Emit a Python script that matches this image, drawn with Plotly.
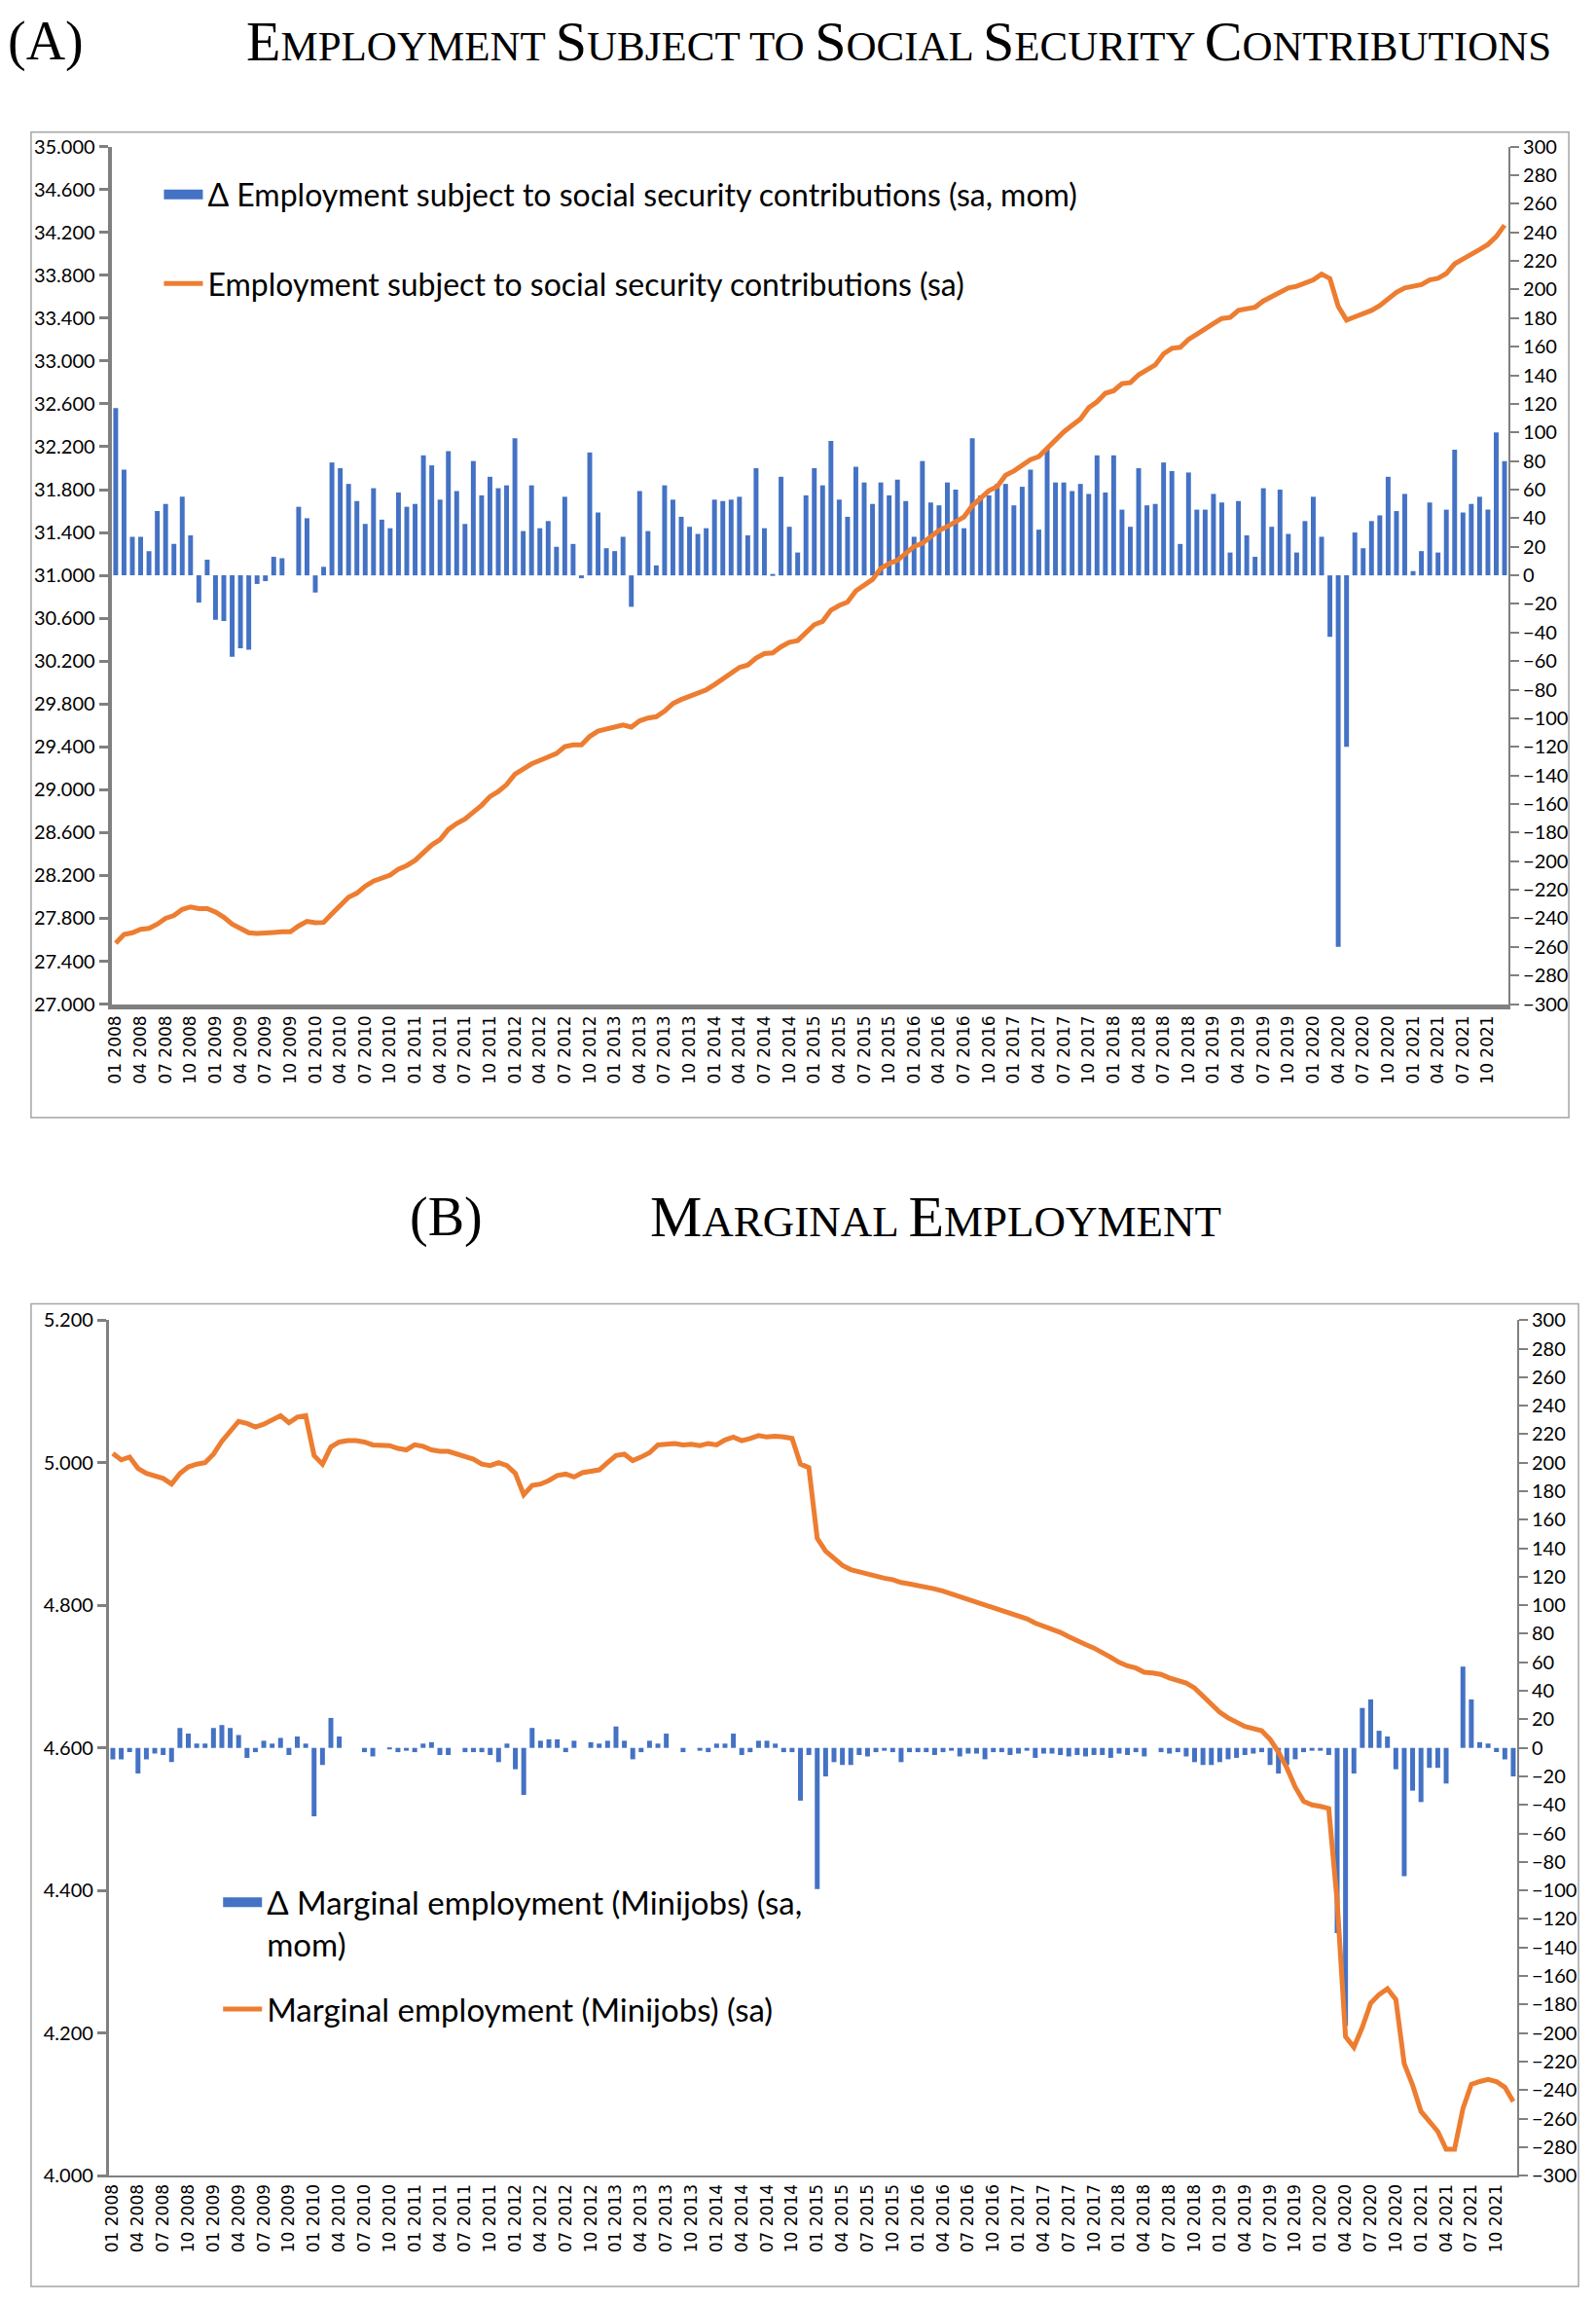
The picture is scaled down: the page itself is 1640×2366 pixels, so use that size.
import plotly.graph_objects as go

# ---------------- data ----------------
months = [f"{m:02d} {y}" for y in range(2008, 2022) for m in range(1, 13)]
tick_labels = months[::3]

# Panel A: change (thousand, right axis) and level (thousand, left axis)
ssc_change = [117, 74, 27, 27, 17, 45, 50, 22, 55, 28, -19, 11,
              -31, -32, -57, -51, -52, -6, -4, 13, 12, 0, 48, 40,
              -12, 6, 79, 75, 64, 52, 36, 61, 39, 33, 58, 48,
              50, 84, 77, 53, 87, 59, 36, 80, 56, 69, 61, 63,
              96, 31, 63, 33, 38, 20, 55, 22, -2, 86, 44, 19,
              17, 27, -22, 59, 31, 7, 63, 53, 41, 34, 29, 33,
              53, 52, 53, 55, 28, 75, 33, 1, 69, 34, 16, 56,
              75, 63, 94, 53, 41, 76, 65, 50, 65, 56, 67, 52,
              27, 80, 51, 49, 65, 60, 33, 96, 56, 56, 64, 64,
              49, 62, 74, 32, 88, 65, 65, 59, 64, 57, 84, 58,
              84, 46, 34, 75, 49, 50, 79, 73, 22, 72, 46, 46,
              57, 51, 16, 52, 28, 13, 61, 34, 60, 29, 16, 38,
              55, 27, -43, -260, -120, 30, 19, 38, 42, 69, 45, 57,
              3, 17, 51, 16, 46, 88, 44, 50, 55, 46, 100, 80]

ssc_level = [27569, 27650, 27666, 27698, 27707, 27746, 27800, 27826, 27884, 27907, 27891, 27891,
             27859, 27810, 27746, 27707, 27666, 27659, 27659, 27669, 27675, 27675, 27730, 27772,
             27759, 27762, 27842, 27923, 27997, 28035, 28100, 28148, 28170, 28203, 28260, 28293,
             28341, 28421, 28485, 28534, 28630, 28685, 28727, 28791, 28855, 28936, 28984, 29048,
             29144, 29193, 29241, 29273, 29305, 29338, 29402, 29418, 29418, 29498, 29547, 29569,
             29585, 29604, 29585, 29643, 29669, 29682, 29733, 29804, 29842, 29874, 29907, 29932,
             29981, 30035, 30093, 30141, 30164, 30228, 30270, 30277, 30334, 30376, 30391, 30460,
             30540, 30571, 30676, 30720, 30751, 30856, 30910, 30961, 31066, 31110, 31141, 31200,
             31270, 31300, 31366, 31420, 31456, 31500, 31545, 31650, 31725, 31790, 31830, 31935,
             31974, 32025, 32080, 32108, 32190, 32270, 32339, 32400, 32459, 32564, 32620, 32699,
             32723, 32789, 32798, 32872, 32920, 32963, 33067, 33118, 33128, 33202, 33250, 33307,
             33350, 33397, 33406, 33472, 33490, 33502, 33560, 33600, 33652, 33682, 33697, 33730,
             33757, 33811, 33770, 33510, 33382, 33412, 33441, 33472, 33517, 33577, 33640, 33682,
             33697, 33712, 33757, 33772, 33816, 33907, 33951, 33990, 34040, 34087, 34160, 34267]

# Panel B: change (thousand, right axis) and level (thousand, left axis)
mini_change = [-8, -8, -3, -18, -8, -4, -5, -10, 14, 10, 3, 3,
               14, 16, 14, 9, -7, -3, 5, 3, 7, -5, 8, 3,
               -48, -12, 21, 8, 0, 0, -3, -6, 0, -1, -3, -2,
               -3, 3, 4, -5, -5, 0, -3, -3, -3, -5, -10, 3,
               -15, -33, 14, 5, 6, 6, -3, 5, 0, 4, 3, 5,
               15, 5, -8, -3, 5, 3, 10, 0, -3, 0, -2, -3,
               3, 3, 10, -5, -3, 5, 5, 3, -3, -3, -37, -5,
               -99, -20, -10, -12, -12, -5, -6, -3, -2, -3, -10, -3,
               -3, -3, -5, -3, -2, -6, -4, -4, -8, -3, -3, -5,
               -4, -2, -7, -4, -4, -5, -6, -5, -6, -5, -5, -7,
               -4, -5, -3, -6, 0, -3, -4, -3, -6, -10, -12, -12,
               -10, -8, -7, -5, -4, -3, -12, -18, -12, -8, -3, -2,
               -2, -5, -130, -195, -18, 28, 34, 12, 8, -15, -90, -30,
               -38, -14, -14, -25, 0, 57, 34, 4, 3, -3, -8, -20]

mini_level = [5013, 5004, 5008, 4992, 4985, 4982, 4978, 4970, 4985, 4994, 4998, 5000,
              5012, 5030, 5045, 5058, 5055, 5050, 5054, 5060, 5066, 5056, 5064, 5066,
              5010, 4998, 5022, 5029, 5031, 5031, 5029, 5025, 5025, 5024, 5020, 5018,
              5025, 5023, 5018, 5016, 5016, 5012, 5008, 5005, 4998, 4996, 5000, 4996,
              4985, 4955, 4968, 4970, 4975, 4982, 4984, 4980, 4986, 4988, 4990, 5000,
              5010, 5012, 5003, 5008, 5014, 5025, 5026, 5027, 5025, 5026, 5024, 5027,
              5025, 5032, 5036, 5031, 5034, 5038, 5036, 5037, 5036, 5034, 4998, 4993,
              4894, 4876, 4866, 4856, 4850, 4847, 4843, 4840, 4838, 4836, 4832, 4830,
              4828, 4826, 4823, 4820, 4816, 4813, 4808, 4805, 4800, 4796, 4793, 4788,
              4784, 4781, 4775, 4771, 4766, 4762, 4756, 4750, 4745, 4740, 4734, 4727,
              4720, 4715, 4712, 4706, 4705, 4703, 4698, 4695, 4691, 4684, 4672, 4660,
              4650, 4642, 4636, 4630, 4627, 4624, 4612, 4594, 4572, 4545, 4525, 4520,
              4518, 4515, 4385, 4195, 4180, 4208, 4242, 4254, 4262, 4247, 4157, 4127,
              4090, 4076, 4062, 4037, 4037, 4094, 4128, 4132, 4135, 4132, 4124, 4104]

# ---------------- helpers ----------------
PAGE_MARGIN = 8          # default body margin of the html page
W, H = 1640 - 2 * PAGE_MARGIN, 2366 - 2 * PAGE_MARGIN


def px(x):
    """page x (pixels) -> paper fraction"""
    return (x - PAGE_MARGIN) / W


def py(y):
    """page y (pixels from top) -> paper fraction"""
    return 1 - (y - PAGE_MARGIN) / H


def small_caps(text, big, small):
    out = []
    for w in text.split(" "):
        if w[0].isupper():
            out.append(f'<span style="font-size:{big}px">{w[0]}</span>{w[1:].upper()}')
        else:
            out.append(w.upper())
    return " ".join(out)


BLUE = "#4472C4"
ORANGE = "#ED7D31"
GREY = "#808080"
TICKFONT = dict(family="Lato", size=20, color="#000000")
XFONT = dict(family="DejaVu Sans", size=17, color="#000000")

name_a_bar = "Δ Employment subject to social security contributions (sa, mom)"
name_a_line = "Employment subject to social security contributions (sa)"
name_b_bar = "Δ Marginal employment (Minijobs) (sa,<br>mom)"
name_b_line = "Marginal employment (Minijobs) (sa)"

fig = go.Figure()

# Panel A
fig.add_trace(go.Bar(x=months, y=ssc_change, xaxis="x", yaxis="y",
                     marker=dict(color=BLUE, line=dict(width=0)),
                     name=name_a_bar, showlegend=False, legendgroup="a1"))
# legend entry with a wide rectangular key for the bars
fig.add_trace(go.Scatter(x=[None], y=[None], xaxis="x", yaxis="y", mode="lines",
                         line=dict(color=BLUE, width=19), name=name_a_bar,
                         legend="legend", legendgroup="a1", hoverinfo="skip"))
fig.add_trace(go.Scatter(x=months, y=ssc_level, xaxis="x", yaxis="y2", mode="lines",
                         line=dict(color=ORANGE, width=5), name=name_a_line,
                         legend="legend", legendgroup="a2"))
# Panel B
fig.add_trace(go.Bar(x=months, y=mini_change, xaxis="x2", yaxis="y3",
                     marker=dict(color=BLUE, line=dict(width=0)),
                     name=name_b_bar, showlegend=False, legendgroup="b1"))
fig.add_trace(go.Scatter(x=[None], y=[None], xaxis="x2", yaxis="y3", mode="lines",
                         line=dict(color=BLUE, width=19), name=name_b_bar,
                         legend="legend2", legendgroup="b1", hoverinfo="skip"))
fig.add_trace(go.Scatter(x=months, y=mini_level, xaxis="x2", yaxis="y4", mode="lines",
                         line=dict(color=ORANGE, width=5), name=name_b_line,
                         legend="legend2", legendgroup="b2"))

xcommon = dict(type="category", tickmode="array", tickvals=tick_labels, ticktext=tick_labels,
               categoryorder="array", categoryarray=months,
               tickangle=-90, tickfont=XFONT, showgrid=False, zeroline=False,
               showline=True, linecolor=GREY, ticks="", fixedrange=True)

fig.update_layout(
    width=W, height=H,
    margin=dict(l=0, r=0, t=0, b=0),
    paper_bgcolor="white", plot_bgcolor="white",
    separators=",.",
    bargap=0.42,
    showlegend=True,
    xaxis=dict(domain=[px(109), px(1550)], anchor="y", linewidth=5,
               range=[-0.5, len(months) - 0.5], **xcommon),
    yaxis=dict(domain=[py(1029), py(139)], anchor="x", side="right",
               range=[-300, 300], tick0=0, dtick=20, tickformat="d", tickfont=TICKFONT,
               showline=True, linecolor=GREY, linewidth=1.5, ticks="outside",
               ticklen=9, tickcolor=GREY, tickwidth=1.5, showgrid=False, zeroline=False),
    yaxis2=dict(overlaying="y", anchor="x", side="left",
                range=[27000, 35000], tick0=27000, dtick=400, tickformat=",d", tickfont=TICKFONT,
                showline=True, linecolor=GREY, linewidth=4, ticks="outside",
                ticklen=9, tickcolor=GREY, tickwidth=3, showgrid=False, zeroline=False),
    xaxis2=dict(domain=[px(106), px(1559)], anchor="y3", linewidth=2,
                range=[-0.5, len(months) - 0.5], **xcommon),
    yaxis3=dict(domain=[py(2245), py(1357)], anchor="x2", side="right",
                range=[-300, 300], tick0=0, dtick=20, tickformat="d", tickfont=TICKFONT,
                showline=True, linecolor=GREY, linewidth=1.5, ticks="outside",
                ticklen=9, tickcolor=GREY, tickwidth=1.5, showgrid=False, zeroline=False),
    yaxis4=dict(overlaying="y3", anchor="x2", side="left",
                range=[4000, 5200], tick0=4000, dtick=200, tickformat=",d", tickfont=TICKFONT,
                showline=True, linecolor=GREY, linewidth=2.5, ticks="outside",
                ticklen=9, tickcolor=GREY, tickwidth=2.5, showgrid=False, zeroline=False),
    legend=dict(x=px(158), y=py(161), xanchor="left", yanchor="top",
                font=dict(family="Lato", size=32, color="#000000"),
                bgcolor="rgba(0,0,0,0)", tracegroupgap=47, itemwidth=40),
    legend2=dict(x=px(219), y=py(1933), xanchor="left", yanchor="top",
                 font=dict(family="Lato", size=33, color="#000000"),
                 bgcolor="rgba(0,0,0,0)", tracegroupgap=21, itemwidth=40, valign="top"),
    shapes=[
        dict(type="rect", xref="paper", yref="paper", x0=px(26), x1=px(1612),
             y0=py(1147), y1=py(124), line=dict(color="#A6A6A6", width=1.5), layer="below"),
        dict(type="rect", xref="paper", yref="paper", x0=px(26), x1=px(1622),
             y0=py(2360), y1=py(1340), line=dict(color="#A6A6A6", width=1.5), layer="below"),
    ],
    annotations=[
        dict(text="(A)", xref="paper", yref="paper", x=px(0), y=py(30), xanchor="left",
             yanchor="middle", showarrow=False,
             font=dict(family="Liberation Serif", size=56, color="#000000")),
        dict(text=small_caps("Employment Subject to Social Security Contributions", 58, 43),
             xref="paper", yref="paper", x=px(246), y=py(30), xanchor="left",
             yanchor="middle", showarrow=False,
             font=dict(family="Liberation Serif", size=43, color="#000000")),
        dict(text="(B)", xref="paper", yref="paper", x=px(414), y=py(1250), xanchor="left",
             yanchor="middle", showarrow=False,
             font=dict(family="Liberation Serif", size=56, color="#000000")),
        dict(text=small_caps("Marginal Employment", 60, 45),
             xref="paper", yref="paper", x=px(662), y=py(1250), xanchor="left",
             yanchor="middle", showarrow=False,
             font=dict(family="Liberation Serif", size=45, color="#000000")),
    ],
)

fig.write_html("out.html")
